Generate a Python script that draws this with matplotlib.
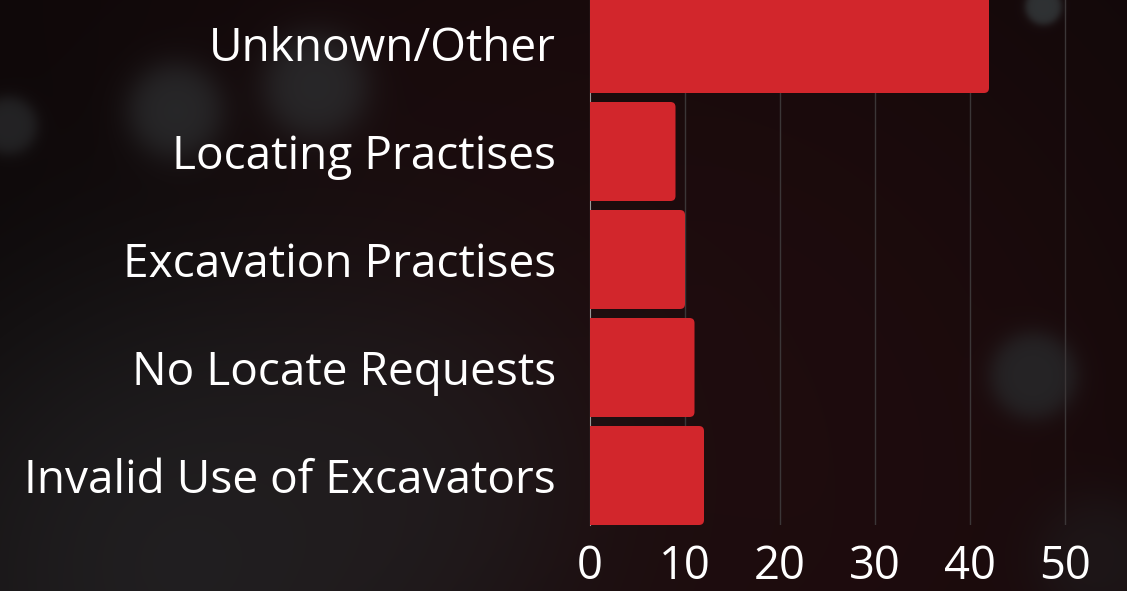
import numpy as np
import matplotlib
matplotlib.use("Agg")
import matplotlib.pyplot as plt
from matplotlib.patches import FancyBboxPatch

# Data
categories = ["Invalid Use of Excavators", "No Locate Requests", "Excavation Practises",
              "Locating Practises", "Unknown/Other"]
values = [12, 11, 10, 9, 42]
xticks = [0, 10, 20, 30, 40, 50]

W, H = 1127, 591
fig = plt.figure(figsize=(W / 100, H / 100), dpi=100)

# ---- background (dark bokeh) ----
yy, xx = np.mgrid[0:H, 0:W].astype(float)
img = np.zeros((H, W, 3))
img[:] = np.array([12, 7, 8]) / 255.0

def blob(cx, cy, r, col, strength, soft=0.45):
    d = np.sqrt((xx - cx) ** 2 + (yy - cy) ** 2) / r
    a = strength / (1 + np.exp((d - 1) / soft))
    c = np.array(col) / 255.0
    for k in range(3):
        img[..., k] = img[..., k] * (1 - a) + c[k] * a

blob(700, 300, 420, (40, 14, 16), 0.6, 0.5)
blob(850, 560, 300, (38, 14, 16), 0.5, 0.5)
blob(300, 300, 260, (35, 14, 16), 0.4, 0.5)
blob(60, 330, 220, (5, 4, 4), 0.7, 0.4)
blob(180, 560, 260, (38, 38, 40), 0.8, 0.35)
blob(420, 470, 140, (34, 32, 34), 0.5, 0.35)
blob(175, 110, 45, (46, 48, 50), 0.75, 0.2)
blob(315, 85, 50, (46, 48, 50), 0.75, 0.2)
blob(8, 125, 28, (44, 46, 48), 0.7, 0.15)
blob(1043, 6, 18, (50, 54, 56), 0.9, 0.12)
blob(1033, 375, 42, (40, 42, 44), 0.8, 0.15)
blob(1100, 560, 60, (34, 34, 36), 0.5, 0.25)
img = np.clip(img, 0, 1)

bg = fig.add_axes([0, 0, 1, 1], zorder=-10)
bg.imshow(img, aspect="auto", extent=[0, W, H, 0], interpolation="bilinear")
bg.axis("off")

# ---- chart axes ----
left = 590 / W
bottom = (H - 525) / H
ax = fig.add_axes([left, bottom, 1 - left, 1 - bottom])
ax.patch.set_alpha(0)

px_per_unit = 9.5
xmax = (W - 590) / px_per_unit
ax.set_xlim(0, xmax)
band = 108.0
bar_h = 99.0 / band
ax.set_ylim(-bar_h / 2, 4 + 43.5 / band)

color = "#D2262C"
ypos = np.arange(len(categories))
r_x = 5.0 / px_per_unit
r_y = 5.0 / band
ax.barh(ypos, [v - r_x for v in values], height=bar_h, color=color, zorder=3)
for y, v in zip(ypos, values):
    p = FancyBboxPatch((0, y - bar_h / 2), v, bar_h,
                       boxstyle=f"round,pad=0,rounding_size={r_x}",
                       mutation_aspect=r_y / r_x, facecolor=color,
                       edgecolor="none", zorder=3)
    ax.add_patch(p)

ax.set_yticks(ypos)
ax.set_yticklabels(categories)
ax.set_xticks(xticks)
ax.set_xticklabels([str(t) for t in xticks])

font = "Open Sans"
renderer = fig.canvas.get_renderer()

def fit_size(text, target_px, start=28):
    t = fig.text(0, 0, text, fontfamily=font, fontsize=start)
    w = t.get_window_extent(renderer).width
    t.remove()
    return start * target_px / w

ysize = fit_size("Invalid Use of Excavators", 531)
xsize = fit_size("50", 52)

for lab in ax.get_yticklabels():
    lab.set_fontfamily(font)
    lab.set_fontsize(ysize)
    lab.set_color("white")
for lab in ax.get_xticklabels():
    lab.set_fontfamily(font)
    lab.set_fontsize(xsize)
    lab.set_color("white")

ax.tick_params(axis="y", length=0, pad=24.5)
ax.tick_params(axis="x", length=0, pad=14)

for t in xticks[1:]:
    ax.axvline(t, color="#3b3637", lw=1.0, zorder=1)
for s in ["top", "right", "bottom"]:
    ax.spines[s].set_visible(False)
ax.spines["left"].set_color("#9a9a9a")
ax.spines["left"].set_linewidth(0.8)
ax.spines["left"].set_zorder(2)

fig.savefig("out.png", dpi=100)
